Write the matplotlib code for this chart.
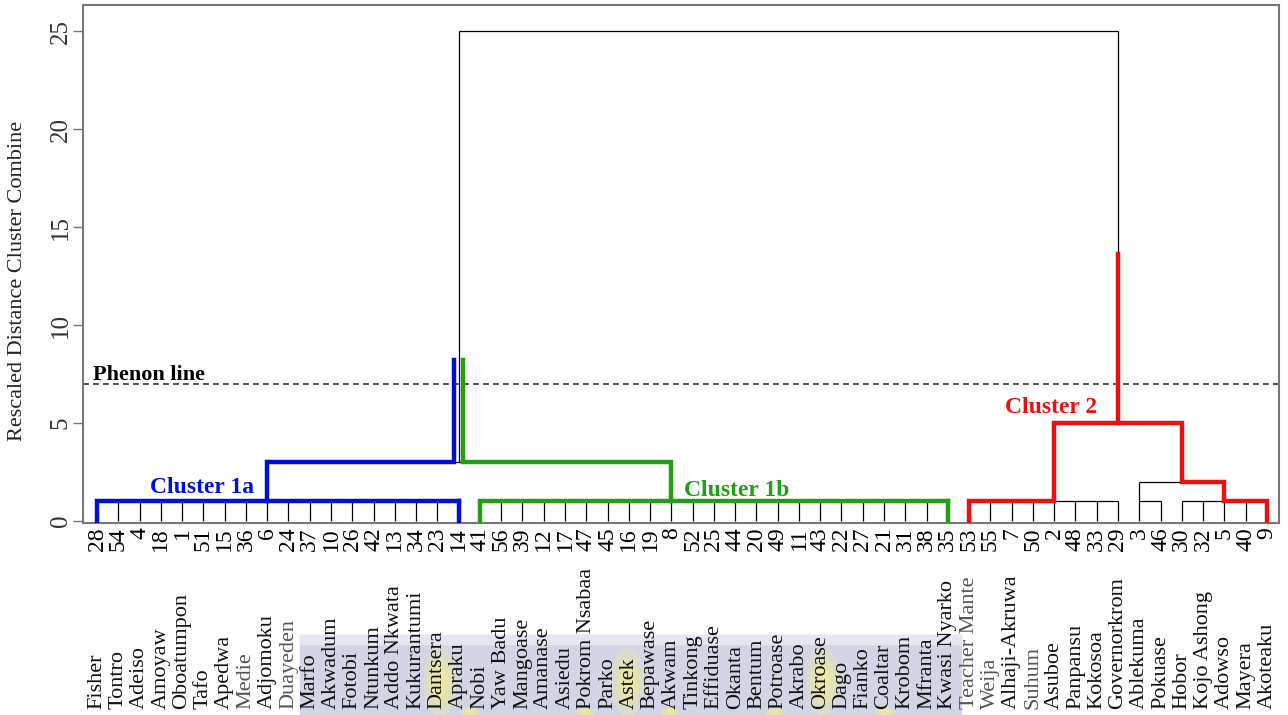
#!/usr/bin/env python

import numpy as np
import matplotlib
matplotlib.use("Agg")
import matplotlib.pyplot as plt
from matplotlib import transforms
from matplotlib.patches import Rectangle, Ellipse

plt.rcParams['font.family'] = ['Liberation Serif', 'DejaVu Serif']

# leaf order (case numbers) and community names, left to right
leaf_ids = [28, 54, 4, 18, 1, 51, 15, 36, 6, 24, 37, 10, 26, 42, 13, 34, 23, 14,
            41, 56, 39, 12, 17, 47, 45, 16, 19, 8, 52, 25, 44, 20, 49, 11, 43, 22,
            27, 21, 31, 38, 35,
            53, 55, 7, 50, 2, 48, 33, 29, 3, 46, 30, 32, 5, 40, 9]
leaf_names = ["Fisher", "Tontro", "Adeiso", "Amoyaw", "Oboatumpon", "Tafo", "Apedwa",
              "Medie", "Adjomoku", "Duayeden", "Marfo", "Akwadum", "Fotobi", "Ntunkum",
              "Addo Nkwata", "Kukurantumi", "Dantsera", "Apraku",
              "Nobi", "Yaw Badu", "Mangoase", "Amanase", "Asiedu", "Pokrom Nsabaa",
              "Parko", "Astek", "Bepawase", "Akwam", "Tinkong", "Effiduase", "Okanta",
              "Bentum", "Potroase", "Akrabo", "Okroase", "Dago", "Fianko", "Coaltar",
              "Krobom", "Mfranta", "Kwasi Nyarko",
              "Teacher Mante", "Weija", "Alhaji-Akruwa", "Suhum", "Asuboe", "Panpansu",
              "Kokosoa", "Governorkrom", "Ablekuma", "Pokuase", "Hobor", "Kojo Ashong",
              "Adowso", "Mayera", "Akoteaku"]
faded = ["Medie", "Duayeden", "Teacher Mante", "Suhum", "Weija"]

# leaves joined at the first level: (first leaf, last leaf)
comb_h = 1.0
combs = [(0, 17), (18, 40), (41, 48), (49, 50), (51, 55)]
# merges: (left node x, left node height, right node x, right node height, merge height)
merges = [(8, 1, 27, 1, 3), (49, 1, 53, 1, 2), (45, 1, 51, 2, 5), (17, 3, 48, 5, 25)]
phenon = 7

# coloured cluster outlines drawn over the dendrogram: comb range and path (leaf pos, height)
blue, green, red = '#0010d8', '#20a012', '#ec1010'
highlights = [
    (blue, (0, 17), [(8, 1), (8, 3), (16.8, 3), (16.8, 8.2)]),
    (green, (18, 40), [(27, 1), (27, 3), (17.2, 3), (17.2, 8.2)]),
    (red, (41, 45), [(45, 1), (45, 5), (51, 5), (51, 2), (53, 2), (53, 1), (55, 1), (55, 0)]),
    (red, None, [(48, 5), (48, 13.6)]),
]
cluster_labels = [("Cluster 1a", blue, 2.5, 1.42), ("Cluster 1b", green, 27.6, 1.3),
                  ("Cluster 2", red, 42.7, 5.5)]


def main():
    fig = plt.figure(figsize=(12.88, 7.15), dpi=100)

    # scanned-looking shading behind part of the names
    fig.patches.append(Rectangle((0.233, 0.0), 0.513, 0.112, transform=fig.transFigure,
                                 color='#d3d4e6', zorder=-5))
    fig.patches.append(Rectangle((0.233, 0.100), 0.513, 0.012, transform=fig.transFigure,
                                 color='#e6e6f0', zorder=-5))
    for gx, gy, gw, gh in [(440, 682, 34, 70), (628, 682, 34, 70), (823, 682, 34, 70),
                           (470, 712, 20, 12), (585, 712, 20, 12), (670, 712, 20, 12),
                           (775, 712, 20, 12), (885, 712, 20, 12)]:
        for k, a in [(1.0, 0.25), (0.7, 0.35), (0.45, 0.45)]:
            fig.patches.append(Ellipse((gx / 1288, 1 - gy / 715), k * gw / 1288, k * gh / 715,
                                       transform=fig.transFigure, color='#f4f08a',
                                       alpha=a, zorder=-4, lw=0))

    ax = fig.add_axes([83 / 1288, 1 - 523 / 715, (1279 - 83) / 1288, (523 - 5) / 715])
    ax.set_facecolor('none')
    ax.set_zorder(2)

    thin = dict(color='black', lw=0.9, zorder=2)
    n = len(leaf_ids)
    x = np.arange(n)
    ax.vlines(x, 0, comb_h, **thin)
    for a, b in combs:
        ax.hlines(comb_h, a, b, **thin)
    for xl, hl, xr, hr, h in merges:
        ax.vlines([xl, xr], [hl, hr], h, **thin)
        ax.hlines(h, xl, xr, **thin)

    for col, comb, path in highlights:
        if comb is not None:
            a, b = comb
            ax.plot([a, a, b], [0, comb_h, comb_h], color=col, lw=3.2, zorder=3,
                    solid_joinstyle='miter')
            if col != red:
                ax.plot([b, b], [comb_h, 0], color=col, lw=3.2, zorder=3)
        px, py = zip(*path)
        ax.plot(px, py, color=col, lw=3.2, zorder=3, solid_joinstyle='miter')

    ax.axhline(phenon, color='#333333', lw=1.2, ls=(0, (3.5, 2.5)), zorder=1)
    ax.text(-0.2, phenon + 0.2, "Phenon line", fontsize=16, fontweight='bold',
            va='baseline', ha='left')
    for txt, col, tx, ty in cluster_labels:
        ax.text(tx, ty, txt, color=col, fontsize=17, fontweight='bold',
                va='baseline', ha='left')

    ax.set_xlim(-0.66, 55.57)
    ax.set_ylim(-0.1, 26.33)
    ax.set_xticks(x)
    ax.set_xticklabels([str(v) for v in leaf_ids], rotation=90, fontsize=17)
    ax.tick_params(axis='x', length=0, pad=3)
    ax.set_yticks([0, 5, 10, 15, 20, 25])
    ax.set_yticklabels(['0', '5', '10', '15', '20', '25'], rotation=90, fontsize=18,
                       va='center', color='#333333')
    ax.tick_params(axis='y', length=7, width=1, color='#777777', pad=1)
    for sp in ax.spines.values():
        sp.set_color('#777777')
        sp.set_linewidth(1.5)

    trans = transforms.blended_transform_factory(ax.transData, fig.transFigure)
    for i, name in enumerate(leaf_names):
        ax.text(i, 6 / 715, name, transform=trans, rotation=90, fontsize=16,
                ha='center', va='bottom', clip_on=False,
                color='#555555' if name in faded else '#111111')

    fig.text(18 / 1288, 1 - 281 / 715, "Rescaled Distance Cluster Combine", rotation=90,
             fontsize=16, ha='center', va='center', color='#222222')

    fig.savefig("out.png", dpi=100)


if __name__ == "__main__":
    main()
